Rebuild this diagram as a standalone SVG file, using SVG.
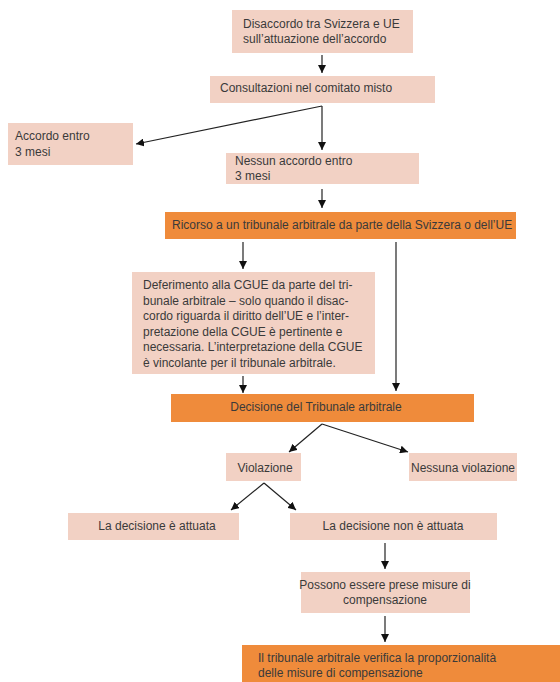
<svg xmlns="http://www.w3.org/2000/svg" width="560" height="682" viewBox="0 0 560 682">
<style>
.p{fill:#F2D1C4}
.o{fill:#EF8B3B}
text{font-family:"Liberation Sans",Arial,sans-serif;font-size:12px;fill:#3a3a3a}
.m{text-anchor:middle}
.c{stroke:#222;stroke-width:1.2;fill:none;marker-end:url(#ah)}
</style>
<defs>
<marker id="ah" markerUnits="userSpaceOnUse" markerWidth="9" markerHeight="8" refX="8" refY="4" orient="auto">
<path d="M0,0 L8,4 L0,8 z" fill="#111"/>
</marker>
</defs>
<rect width="560" height="682" fill="#fff"/>
<g id="n1"><rect class="p" x="232" y="10" width="181" height="43"/><text x="243" y="28">Disaccordo tra Svizzera e UE</text><text x="243" y="43">sull’attuazione dell’accordo</text></g>
<g id="n2"><rect class="p" x="210" y="76" width="225" height="27"/><text x="220" y="92">Consultazioni nel comitato misto</text></g>
<g id="n3"><rect class="p" x="8" y="123" width="125" height="42"/><text x="15" y="140">Accordo entro</text><text x="15" y="156">3 mesi</text></g>
<g id="n4"><rect class="p" x="226" y="153" width="193" height="31"/><text x="235" y="165">Nessun accordo entro</text><text x="235" y="180">3 mesi</text></g>
<g id="n5"><rect class="o" x="165" y="212" width="351" height="27"/><text x="172" y="229">Ricorso a un tribunale arbitrale da parte della Svizzera o dell’UE</text></g>
<g id="n6"><rect class="p" x="132" y="272" width="243" height="102"/>
<text x="143" y="289">Deferimento alla CGUE da parte del tri-</text>
<text x="143" y="305">bunale arbitrale – solo quando il disac-</text>
<text x="143" y="320">cordo riguarda il diritto dell’UE e l’inter-</text>
<text x="143" y="336">pretazione della CGUE è pertinente e</text>
<text x="143" y="351">necessaria. L’interpretazione della CGUE</text>
<text x="143" y="367">è vincolante per il tribunale arbitrale.</text></g>
<g id="n7"><rect class="o" x="171" y="394" width="303" height="28"/><text class="m" x="316" y="411">Decisione del Tribunale arbitrale</text></g>
<g id="n8"><rect class="p" x="226" y="453" width="75" height="28"/><text class="m" x="265" y="472">Violazione</text></g>
<g id="n9"><rect class="p" x="409" y="453" width="108" height="28"/><text class="m" x="463" y="472">Nessuna violazione</text></g>
<g id="n10"><rect class="p" x="68" y="513" width="171" height="27"/><text class="m" x="157" y="530">La decisione è attuata</text></g>
<g id="n11"><rect class="p" x="290" y="513" width="207" height="27"/><text class="m" x="393" y="530">La decisione non è attuata</text></g>
<g id="n12"><rect class="p" x="301" y="572" width="169" height="41"/><text class="m" x="385" y="589">Possono essere prese misure di</text><text class="m" x="385" y="604">compensazione</text></g>
<g id="n13"><rect class="o" x="242" y="645" width="318" height="37"/><text x="258" y="662">Il tribunale arbitrale verifica la proporzionalità</text><text x="258" y="677">delle misure di compensazione</text></g>
<g id="connectors">
<line class="c" x1="322" y1="55" x2="322" y2="73"/>
<line class="c" x1="322" y1="106" x2="136" y2="144"/>
<line class="c" x1="322" y1="106" x2="322" y2="150"/>
<line class="c" x1="322" y1="189" x2="322" y2="208"/>
<line class="c" x1="243" y1="242" x2="243" y2="269"/>
<line class="c" x1="396" y1="242" x2="396" y2="391"/>
<line class="c" x1="243" y1="376" x2="243" y2="393"/>
<line class="c" x1="322" y1="424" x2="289" y2="452"/>
<line class="c" x1="322" y1="424" x2="408" y2="452"/>
<line class="c" x1="264" y1="483" x2="231" y2="510"/>
<line class="c" x1="264" y1="483" x2="296" y2="510"/>
<line class="c" x1="385" y1="543" x2="385" y2="569"/>
<line class="c" x1="385" y1="616" x2="385" y2="642"/>
</g>
</svg>
